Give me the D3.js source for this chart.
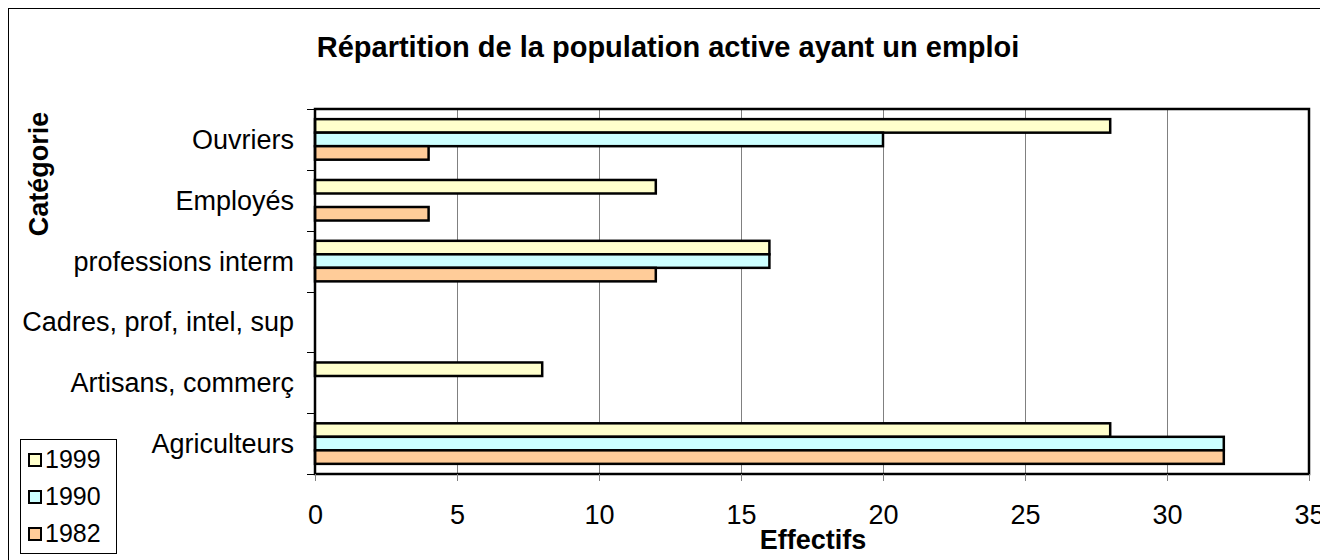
<!DOCTYPE html>
<html lang="fr">
<head>
  <meta charset="UTF-8">
  <title>Répartition de la population active</title>
  <script src="https://d3js.org/d3.v7.min.js"></script>
  <style>
    body { margin: 0; background: #fff; }
    text { font-family: Arial, "Liberation Sans", sans-serif; }
  </style>
</head>
<body>
  <svg id="chart" width="1320" height="560"></svg>
  <script>
    // data
    const categories = ["Ouvriers", "Employés", "professions interm", "Cadres, prof, intel, sup", "Artisans, commerç", "Agriculteurs"];
    const years = ["1999", "1990", "1982"];
    const values1999 = [28, 12, 16, 0, 8, 28];
    const values1990 = [20, 0, 16, 0, 0, 32];
    const values1982 = [4, 4, 12, 0, 0, 32];
    const xTicks = [0, 5, 10, 15, 20, 25, 30, 35];
    const colors = ["#FFFFCC", "#CCFFFF", "#FFCC99"];

    const series = [values1999, values1990, values1982];

    let svg = d3.select("svg#chart");
    let margin = {top: 109, left: 315, right: 11, bottom: 86};
    let chartWidth = 1320 - margin.left - margin.right;
    let chartHeight = 560 - margin.top - margin.bottom;

    // outer frame
    svg.append("rect")
       .attr("x", 8.5).attr("y", 8.5)
       .attr("width", 1330).attr("height", 580)
       .attr("fill", "white")
       .attr("stroke", "black")
       .attr("stroke-width", 1);

    const xScale = d3.scaleLinear().domain([0, 35]).range([0, chartWidth]);
    const yScale = d3.scaleBand().domain(categories).range([0, chartHeight]).paddingInner(0).paddingOuter(0);
    const innerScale = d3.scaleBand().domain(years).range([0, yScale.bandwidth()]).paddingInner(0).paddingOuter(0.75);

    let chartArea = svg.append("g")
                       .attr("transform", `translate(${margin.left},${margin.top})`);

    // gridlines
    chartArea.append("g")
             .selectAll("line")
             .data(xTicks.slice(1, -1))
             .join("line")
             .attr("x1", d => Math.round(xScale(d)) + 0.5).attr("x2", d => Math.round(xScale(d)) + 0.5)
             .attr("y1", 0).attr("y2", chartHeight)
             .attr("stroke", "#808080")
             .attr("stroke-width", 1);

    // bars
    series.forEach((vals, s) => {
      chartArea.append("g")
               .selectAll("rect")
               .data(vals.map((v, i) => ({cat: categories[i], v: v})).filter(d => d.v > 0))
               .join("rect")
               .attr("x", 0)
               .attr("y", d => yScale(d.cat) + innerScale(years[s]))
               .attr("width", d => xScale(d.v))
               .attr("height", innerScale.bandwidth())
               .attr("fill", colors[s])
               .attr("stroke", "black")
               .attr("stroke-width", 2.5);
    });

    // plot border
    chartArea.append("rect")
             .attr("x", 0).attr("y", 0)
             .attr("width", chartWidth).attr("height", chartHeight)
             .attr("fill", "none")
             .attr("stroke", "black")
             .attr("stroke-width", 2.5);

    // x axis
    let bottomAxis = d3.axisBottom(xScale).tickValues(xTicks).tickSize(7).tickSizeOuter(0).tickPadding(24);
    let xAxisG = chartArea.append("g")
             .attr("transform", `translate(0,${chartHeight})`)
             .call(bottomAxis);
    xAxisG.select(".domain").remove();
    xAxisG.selectAll(".tick line").attr("stroke", "#808080");
    xAxisG.selectAll(".tick text")
          .style("font-family", "Arial, 'Liberation Sans', sans-serif")
          .style("font-size", "27px")
          .attr("fill", "black");

    // y axis ticks at band boundaries
    chartArea.append("g")
             .selectAll("line")
             .data(d3.range(categories.length + 1))
             .join("line")
             .attr("x1", -8).attr("x2", 0)
             .attr("y1", i => Math.round(i * yScale.step()) + 0.5).attr("y2", i => Math.round(i * yScale.step()) + 0.5)
             .attr("stroke", "black")
             .attr("stroke-width", 1);

    chartArea.append("g")
             .selectAll("text")
             .data(categories)
             .join("text")
             .attr("x", -21)
             .attr("y", d => yScale(d) + yScale.bandwidth() / 2)
             .attr("dy", "0.35em")
             .attr("text-anchor", "end")
             .style("font-size", "27px")
             .text(d => d);

    // title
    svg.append("text")
       .attr("x", 668).attr("y", 57)
       .attr("text-anchor", "middle")
       .style("font", "bold 29px Arial, 'Liberation Sans', sans-serif")
       .text("Répartition de la population active ayant un emploi");

    // axis titles
    svg.append("text")
       .attr("x", 813).attr("y", 549)
       .attr("text-anchor", "middle")
       .style("font", "bold 27px Arial, 'Liberation Sans', sans-serif")
       .text("Effectifs");

    svg.append("text")
       .attr("transform", "translate(48,174) rotate(-90)")
       .attr("text-anchor", "middle")
       .style("font", "bold 27px Arial, 'Liberation Sans', sans-serif")
       .text("Catégorie");

    // legend
    let legend = svg.append("g").attr("transform", "translate(20,439)");
    legend.append("rect")
          .attr("x", 0.5).attr("y", 0.5)
          .attr("width", 96).attr("height", 114)
          .attr("fill", "white")
          .attr("stroke", "black")
          .attr("stroke-width", 1);
    years.forEach((y, i) => {
      legend.append("rect")
            .attr("x", 9).attr("y", 15 + i * 37)
            .attr("width", 12).attr("height", 12)
            .attr("fill", colors[i])
            .attr("stroke", "black")
            .attr("stroke-width", 2);
      legend.append("text")
            .attr("x", 25).attr("y", 29 + i * 37)
            .style("font-size", "25px")
            .text(y);
    });
  </script>
</body>
</html>
